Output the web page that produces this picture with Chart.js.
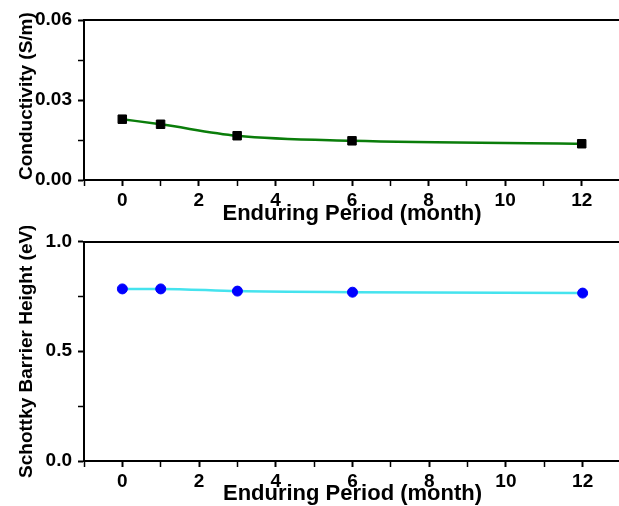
<!DOCTYPE html>
<html>
<head>
<meta charset="utf-8">
<script src="https://cdn.jsdelivr.net/npm/chart.js@4/dist/chart.umd.min.js"></script>
<style>
  html, body { margin: 0; padding: 0; background: #fff; overflow: hidden; }
  #wrap { position: relative; width: 619px; height: 506px; overflow: hidden; }
  #condChart { position: absolute; left: 0; top: 0; }
  #sbhChart { position: absolute; left: 0; top: 226px; }
</style>
</head>
<body>
<div id="wrap">
  <canvas id="condChart" width="627" height="226"></canvas>
  <canvas id="sbhChart" width="627" height="280"></canvas>
</div>
<script>
// data
const months = [0, 1, 3, 6, 12];
const conductivity = [0.0228, 0.0209, 0.0166, 0.0147, 0.0136];
const barrierHeight = [0.784, 0.784, 0.774, 0.769, 0.765];

const xTitle = 'Enduring Period (month)';
const condTitle = 'Conductivity (S/m)';
const sbhTitle = 'Schottky Barrier Height (eV)';

Chart.defaults.font.family = '"Liberation Sans", Arial, sans-serif';
Chart.defaults.color = '#000';

const toPoints = (ys) => months.map((m, i) => ({ x: m, y: ys[i] }));

// shared x axis (bottom) + top frame line
const makeXScales = (xHeight) => ({
    x: {
        type: 'linear',
        min: -1,
        max: 13,
        border: { display: true, color: '#000', width: 2 },
        grid: {
            drawOnChartArea: false,
            drawTicks: true,
            tickLength: 6,
            tickColor: '#000',
            tickWidth: (c) => (c.tick && c.tick.value % 2 === 0 ? 2 : 1.5),
        },
        ticks: {
            stepSize: 1,
            includeBounds: false,
            autoSkip: false,
            maxRotation: 0,
            padding: 5,
            font: { size: 19, weight: 'bold', lineHeight: 1 },
            callback: (v) => (v % 2 === 0 ? v : ''),
        },
        title: {
            display: true,
            text: xTitle,
            font: { size: 22, weight: 'bold', lineHeight: 1 },
            padding: { top: 0, bottom: 1 },
        },
        afterFit: (s) => { s.height = xHeight; },
    },
    x2: {
        type: 'linear',
        position: 'top',
        min: -1,
        max: 13,
        border: { display: true, color: '#000', width: 2 },
        grid: { drawOnChartArea: false, drawTicks: false },
        ticks: { display: false },
        afterFit: (s) => { s.height = 0; },
    },
});

const makeYScale = (max, step, digits, title, align) => ({
    type: 'linear',
    min: 0,
    max: max,
    border: { display: true, color: '#000', width: 2 },
    grid: {
        drawOnChartArea: false,
        tickLength: 6,
        tickColor: '#000',
        tickWidth: (c) => (c.index % 2 === 0 ? 2 : 1.5),
    },
    ticks: {
        stepSize: step,
        autoSkip: false,
        padding: 6,
        font: { size: 19, weight: 'bold', lineHeight: 1 },
        callback: (v, i) => (i % 2 === 0 ? v.toFixed(digits) : ''),
    },
    title: {
        display: true,
        text: title,
        align: align,
        font: { size: 19, weight: 'bold', lineHeight: 1 },
        padding: { top: 17, bottom: 0 },
    },
    afterFit: (s) => { s.width = 84; },
});

// conductivity panel
new Chart(document.getElementById('condChart'), {
    type: 'line',
    data: {
        datasets: [{
            data: toPoints(conductivity),
            borderColor: '#0a7d0a',
            borderWidth: 2.5,
            cubicInterpolationMode: 'monotone',
            pointStyle: 'rect',
            pointRadius: 6,
            pointBackgroundColor: '#000',
            pointBorderColor: '#000',
            pointBorderWidth: 1,
        }]
    },
    options: {
        responsive: false,
        animation: false,
        layout: { padding: { top: 20, left: 0, right: 0, bottom: 0 } },
        plugins: { legend: { display: false }, tooltip: { enabled: false } },
        scales: Object.assign(makeXScales(46), {
            y: makeYScale(0.06, 0.015, 2, condTitle, 'start'),
        }),
    }
});

// barrier height panel
new Chart(document.getElementById('sbhChart'), {
    type: 'line',
    data: {
        datasets: [{
            data: toPoints(barrierHeight),
            borderColor: '#45e3ee',
            borderWidth: 2.5,
            cubicInterpolationMode: 'monotone',
            pointStyle: 'circle',
            pointRadius: 5,
            pointBackgroundColor: '#0000ff',
            pointBorderColor: '#0000ff',
            pointBorderWidth: 1,
        }]
    },
    options: {
        responsive: false,
        animation: false,
        layout: { padding: { top: 4, left: 0, right: 0, bottom: 0 } },
        plugins: { legend: { display: false }, tooltip: { enabled: false } },
        scales: Object.assign(makeXScales(45), {
            y: makeYScale(1, 0.25, 1, sbhTitle, 'center'),
        }),
    }
});
</script>
</body>
</html>
